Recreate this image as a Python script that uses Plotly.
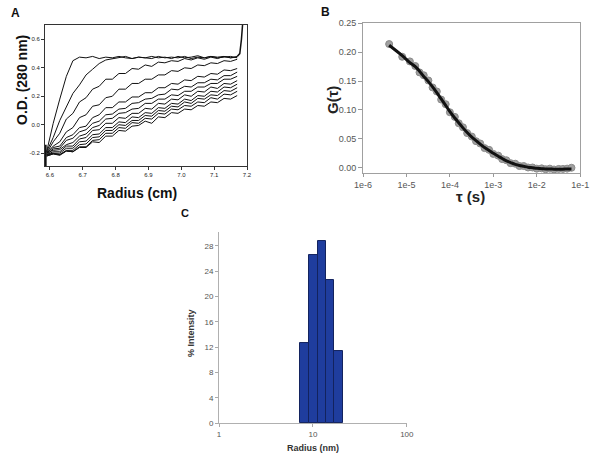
import plotly.graph_objects as go

# ---------------- Panel A: sedimentation velocity boundaries ----------------
radius_cm = [6.59, 6.61, 6.63, 6.65, 6.67, 6.69, 6.71, 6.73, 6.75, 6.77,
             6.79, 6.81, 6.83, 6.85, 6.87, 6.89, 6.91, 6.93, 6.95, 6.97,
             6.99, 7.01, 7.03, 7.05, 7.07, 7.09, 7.11, 7.13, 7.15, 7.17]

od_scans = [
    [-0.19, 0.01, 0.18, 0.34, 0.45, 0.475, 0.47, 0.48, 0.465, 0.475, 0.47, 0.48, 0.47, 0.465, 0.475,
     0.47, 0.48, 0.47, 0.475, 0.465, 0.48, 0.47, 0.475, 0.485, 0.47, 0.48, 0.475, 0.48, 0.47, 0.48],
    [-0.19, -0.09, 0.03, 0.13, 0.22, 0.28, 0.35, 0.39, 0.43, 0.455, 0.465, 0.47, 0.48, 0.465, 0.475,
     0.47, 0.465, 0.48, 0.47, 0.475, 0.47, 0.48, 0.465, 0.475, 0.47, 0.48, 0.47, 0.475, 0.48, 0.47],
    [-0.2, -0.12, -0.06, 0.04, 0.08, 0.16, 0.19, 0.25, 0.27, 0.32, 0.32, 0.36, 0.36, 0.395, 0.39,
     0.42, 0.41, 0.44, 0.435, 0.45, 0.445, 0.465, 0.455, 0.47, 0.46, 0.475, 0.465, 0.48, 0.47, 0.475],
    [-0.2, -0.15, -0.12, -0.05, -0.02, 0.05, 0.07, 0.13, 0.14, 0.19, 0.2, 0.25, 0.25, 0.29, 0.29,
     0.32, 0.32, 0.35, 0.35, 0.38, 0.375, 0.40, 0.395, 0.42, 0.415, 0.435, 0.43, 0.45, 0.445, 0.46],
    [-0.2, -0.16, -0.15, -0.09, -0.07, -0.02, -0.01, 0.05, 0.07, 0.12, 0.12, 0.16, 0.16, 0.195, 0.195,
     0.225, 0.225, 0.26, 0.26, 0.29, 0.285, 0.315, 0.31, 0.34, 0.335, 0.36, 0.355, 0.385, 0.38, 0.395],
    [-0.21, -0.17, -0.165, -0.11, -0.095, -0.05, -0.035, 0.01, 0.025, 0.07, 0.075, 0.11, 0.115, 0.15, 0.155,
     0.18, 0.185, 0.21, 0.215, 0.25, 0.245, 0.27, 0.265, 0.295, 0.295, 0.32, 0.315, 0.345, 0.345, 0.37],
    [-0.2, -0.18, -0.175, -0.14, -0.125, -0.08, -0.065, -0.02, -0.005, 0.04, 0.045, 0.08, 0.085, 0.11, 0.115,
     0.15, 0.15, 0.18, 0.18, 0.21, 0.205, 0.235, 0.235, 0.265, 0.265, 0.29, 0.29, 0.32, 0.32, 0.34],
    [-0.21, -0.19, -0.19, -0.15, -0.15, -0.10, -0.09, -0.04, -0.035, 0.01, 0.01, 0.05, 0.045, 0.08, 0.08,
     0.115, 0.11, 0.15, 0.145, 0.18, 0.175, 0.21, 0.2, 0.235, 0.23, 0.265, 0.255, 0.29, 0.285, 0.31],
    [-0.21, -0.2, -0.2, -0.165, -0.165, -0.12, -0.115, -0.07, -0.065, -0.02, -0.02, 0.02, 0.015, 0.055, 0.05,
     0.085, 0.08, 0.12, 0.115, 0.15, 0.145, 0.18, 0.17, 0.205, 0.2, 0.235, 0.23, 0.265, 0.26, 0.285],
    [-0.215, -0.2, -0.21, -0.18, -0.18, -0.14, -0.135, -0.09, -0.085, -0.04, -0.04, 0.0, -0.005, 0.03, 0.03,
     0.065, 0.06, 0.1, 0.095, 0.13, 0.125, 0.16, 0.15, 0.185, 0.18, 0.21, 0.205, 0.24, 0.235, 0.26],
    [-0.22, -0.205, -0.215, -0.185, -0.19, -0.155, -0.155, -0.11, -0.105, -0.06, -0.06, -0.02, -0.025, 0.015, 0.01,
     0.045, 0.04, 0.08, 0.075, 0.11, 0.105, 0.135, 0.13, 0.16, 0.155, 0.19, 0.18, 0.215, 0.21, 0.235],
    [-0.22, -0.205, -0.21, -0.185, -0.19, -0.16, -0.16, -0.12, -0.125, -0.08, -0.08, -0.04, -0.045, -0.01, -0.005,
     0.025, 0.01, 0.055, 0.05, 0.085, 0.08, 0.11, 0.105, 0.135, 0.13, 0.16, 0.155, 0.185, 0.18, 0.205],
]

# cell base (end) and meniscus features
base_x = [7.17, 7.178, 7.183, 7.188]
base_y = [0.48, 0.50, 0.60, 0.75]
menis_x = [6.587, 6.587]
menis_y = [-0.14, -0.30]

# ---------------- Panel B: FCS autocorrelation ----------------
tau_s = [4e-6, 8e-6, 1.2e-5, 1.6e-5, 2e-5, 2.5e-5, 3.2e-5, 4e-5, 5e-5, 6.3e-5,
         8e-5, 1e-4, 1.3e-4, 1.6e-4, 2e-4, 2.5e-4, 3.2e-4, 4e-4, 5e-4, 6.3e-4,
         8e-4, 1e-3, 1.3e-3, 1.6e-3, 2e-3, 2.5e-3, 3.2e-3, 4e-3, 5e-3, 6.3e-3,
         8e-3, 1e-2, 1.3e-2, 1.6e-2, 2e-2, 2.5e-2, 3.2e-2, 4e-2, 5e-2, 6.3e-2]
g_fit = [0.212, 0.194, 0.182, 0.175, 0.167, 0.158, 0.149, 0.140, 0.130, 0.119,
         0.108, 0.097, 0.086, 0.078, 0.069, 0.061, 0.053, 0.047, 0.041, 0.035,
         0.030, 0.025, 0.020, 0.016, 0.012, 0.009, 0.006, 0.004, 0.0025, 0.001,
         0.0, -0.001, -0.0015, -0.002, -0.002, -0.0025, -0.0025, -0.0025, -0.002, -0.002]
g_data = [0.214, 0.192, 0.184, 0.176, 0.165, 0.160, 0.151, 0.139, 0.132, 0.118,
          0.110, 0.096, 0.088, 0.077, 0.070, 0.060, 0.054, 0.046, 0.042, 0.034,
          0.031, 0.024, 0.021, 0.015, 0.013, 0.008, 0.007, 0.003, 0.003, 0.0005,
          0.0005, -0.0015, -0.001, -0.0025, -0.0015, -0.003, -0.002, -0.002, -0.0015, 0.0]

# ---------------- Panel C: DLS size distribution ----------------
bin_lo_nm = [7.27, 9.06, 11.2, 13.8, 16.8]
bin_hi_nm = [9.06, 11.2, 13.8, 16.8, 20.7]
intensity_pct = [12.7, 26.5, 28.8, 22.6, 11.4]

FONT = "Arial, Liberation Sans, sans-serif"

fig = go.Figure()

# Panel A traces
for scan in od_scans:
    fig.add_trace(go.Scatter(x=radius_cm, y=scan, mode="lines",
                             line=dict(color="#111111", width=1),
                             xaxis="x", yaxis="y", showlegend=False, hoverinfo="skip"))
fig.add_trace(go.Scatter(x=base_x, y=base_y, mode="lines", line=dict(color="#111111", width=1.5),
                         xaxis="x", yaxis="y", showlegend=False))
fig.add_trace(go.Scatter(x=menis_x, y=menis_y, mode="lines", line=dict(color="#111111", width=2),
                         xaxis="x", yaxis="y", showlegend=False))

# Panel B traces
fig.add_trace(go.Scatter(x=tau_s, y=g_data, mode="markers",
                         marker=dict(color="#a0a0a0", size=7, line=dict(color="#8a8a8a", width=1)),
                         xaxis="x2", yaxis="y2", showlegend=False))
fig.add_trace(go.Scatter(x=tau_s, y=g_fit, mode="lines", line=dict(color="#111111", width=3, shape="spline"),
                         xaxis="x2", yaxis="y2", showlegend=False))

# Panel C bars
fig.add_trace(go.Bar(x=bin_lo_nm, y=intensity_pct,
                     width=[h - l for l, h in zip(bin_lo_nm, bin_hi_nm)], offset=0,
                     marker=dict(color="#1f3d9e", line=dict(color="#13235e", width=1)),
                     xaxis="x3", yaxis="y3", showlegend=False))

tickA = dict(size=6, color="#222222", family=FONT)
tickB = dict(size=9, color="#555555", family=FONT)
tickC = dict(size=8, color="#555555", family=FONT)

common = dict(automargin=False, showgrid=False, zeroline=False, showline=True, linewidth=1)

fig.update_layout(
    width=600, height=465,
    margin=dict(l=0, r=0, t=0, b=0, autoexpand=False),
    paper_bgcolor="white", plot_bgcolor="white",
    font=dict(family=FONT),
    bargap=0,
    xaxis=dict(domain=[0.075, 0.4117], range=[6.585, 7.2], anchor="y",
               tickvals=[6.6, 6.7, 6.8, 6.9, 7.0, 7.1, 7.2], ticktext=["6.6", "6.7", "6.8", "6.9", "7.0", "7.1", "7.2"],
               ticks="outside", ticklen=3, tickcolor="#333", tickfont=tickA,
               linecolor="#333333", mirror=True, **common),
    yaxis=dict(domain=[0.643, 0.946], range=[-0.29, 0.7], anchor="x",
               tickvals=[-0.2, 0.0, 0.2, 0.4, 0.6], ticktext=["-0.2", "0.0", "0.2", "0.4", "0.6"],
               ticks="outside", ticklen=3, tickcolor="#333", tickfont=tickA,
               linecolor="#333333", mirror=True, **common),
    xaxis2=dict(domain=[0.605, 0.967], type="log", range=[-6, -1], anchor="y2",
                tickvals=[1e-6, 1e-5, 1e-4, 1e-3, 1e-2, 1e-1],
                ticktext=["1e-6", "1e-5", "1e-4", "1e-3", "1e-2", "1e-1"],
                ticks="outside", ticklen=3, tickcolor="#999", tickfont=tickB,
                linecolor="#a0a0a0", mirror=True, **common),
    yaxis2=dict(domain=[0.628, 0.95], range=[-0.009, 0.25], anchor="x2",
                tickvals=[0, 0.05, 0.10, 0.15, 0.20, 0.25], tickformat=".2f",
                ticks="outside", ticklen=4, tickcolor="#999", tickfont=tickB,
                linecolor="#a0a0a0", mirror=True, **common),
    xaxis3=dict(domain=[0.365, 0.678], type="log", range=[0, 2], anchor="y3",
                tickvals=[1, 10, 100], ticktext=["1", "10", "100"],
                ticks="outside", ticklen=3, tickcolor="#aaa", tickfont=tickC,
                linecolor="#b0b0b0", **common),
    yaxis3=dict(domain=[0.0903, 0.501], range=[0, 30.2], anchor="x3",
                tickvals=[0, 4, 8, 12, 16, 20, 24, 28],
                ticks="outside", ticklen=3, tickcolor="#aaa", tickfont=tickC,
                linecolor="#b0b0b0", **common),
)

def txt(x, y, s, size, color="#111111", bold=True, angle=0):
    fig.add_annotation(x=x / 600, y=1 - y / 465, xref="paper", yref="paper",
                       text=f"<b>{s}</b>" if bold else s, showarrow=False,
                       font=dict(size=size, color=color, family=FONT),
                       textangle=angle, xanchor="center", yanchor="middle")

# Panel labels and axis titles
txt(15, 13, "A", 12)
txt(22, 80, "O.D. (280 nm)", 14, angle=-90)
txt(137, 193, "Radius (cm)", 14)

txt(325, 12, "B", 12)
txt(332, 100, "G(τ)", 15, color="#222222", angle=-90)
txt(470, 196, "τ (s)", 15, color="#222222")

txt(185, 213, "C", 11)
txt(191, 333, "% Intensity", 9, color="#333333", angle=-90)
txt(313, 448, "Radius (nm)", 9, color="#333333")

fig.write_html("out.html", config={"displayModeBar": False},
               post_script="document.body.style.margin='0';document.body.style.overflow='hidden';")
